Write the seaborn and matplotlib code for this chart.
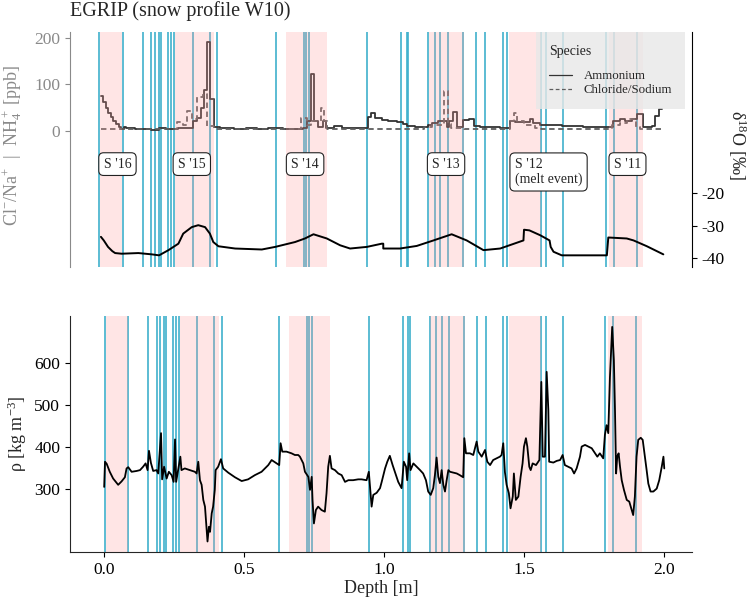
import matplotlib
matplotlib.use("Agg")
import numpy as np
import pandas as pd
import seaborn as sns
import matplotlib.pyplot as plt

# ---------------- data ----------------
# layer markers (blue vertical lines), depth in m
layer_depths = [0.004, 0.087, 0.158, 0.188, 0.202, 0.215, 0.221, 0.248, 0.256, 0.268,
                0.333, 0.393, 0.420, 0.626, 0.724, 0.733, 0.742, 0.946, 1.067, 1.087,
                1.093, 1.164, 1.186, 1.206, 1.233, 1.286, 1.331, 1.364, 1.426, 1.440,
                1.560, 1.579, 1.640, 1.789, 1.819, 1.899]

# summer seasons (pink bands) and their labels
season_start = [0.007, 0.271, 0.662, 1.165, 1.447, 1.800]
season_end = [0.085, 0.410, 0.807, 1.290, 1.560, 1.920]
season_labels = ["S '16", "S '15", "S '14", "S '13", "S '12\n(melt event)", "S '11"]
label_x = [0.000, 0.262, 0.661, 1.158, 1.449, 1.798]

# ammonium [ppb]
nh4_depth = [0.010, 0.019, 0.027, 0.036, 0.045, 0.054, 0.063, 0.072, 0.081, 0.090,
             0.100, 0.130, 0.160, 0.185, 0.215, 0.240, 0.280, 0.335, 0.349, 0.362,
             0.373, 0.385, 0.396, 0.408, 0.430, 0.480, 0.520, 0.560, 0.600, 0.650,
             0.700, 0.723, 0.735, 0.749, 0.761, 0.776, 0.792, 0.803, 0.830, 0.860,
             0.900, 0.950, 0.961, 0.976, 1.000, 1.023, 1.053, 1.076, 1.090, 1.117,
             1.164, 1.176, 1.199, 1.229, 1.238, 1.252, 1.264, 1.285, 1.307, 1.323,
             1.346, 1.417, 1.452, 1.470, 1.522, 1.534, 1.558, 1.634, 1.710, 1.769,
             1.816, 1.840, 1.857, 1.881, 1.899, 1.922, 1.951, 1.963, 1.975, 1.987]
nh4_ppb = [74, 61, 49, 39, 30, 21, 14, 7, 4, 8,
           5, 3, 4, 2, 5, 3, 5, 22, 28, 50,
           88, 192, 69, 7, 5, 4, 6, 3, 5, 4,
           3, 6, 21, 122, 20, 7, 20, 6, 10, 6,
           5, 29, 39, 27, 23, 21, 18, 14, 11, 7,
           12, 16, 20, 8, 20, 41, 8, 23, 25, 11,
           7, 5, 21, 18, 25, 17, 12, 10, 7, 9,
           21, 25, 22, 25, 36, 7, 11, 32, 47, 47]

# chloride / sodium ratio, shown on the ppb scale
clna_depth = [0.010, 0.277, 0.300, 0.312, 0.330, 0.348, 0.371, 0.383, 0.408, 0.715,
              0.735, 0.750, 0.786, 0.797, 0.808, 1.150, 1.175, 1.220, 1.232, 1.245,
              1.290, 1.452, 1.466, 1.478, 1.500, 1.540, 1.560, 1.810, 1.840, 1.865,
              1.895, 1.910, 1.987]
clna_ppb = [3, 18, 12, 43, 25, 72, 79, 11, 3, 27,
            12, 22, 49, 22, 3, 8, 12, 85, 15, 5,
            3, 22, 39, 20, 12, 6, 3, 12, 16, 25,
            8, 3, 3]

# d18O [permil]
d18o_depth = [0.010, 0.020, 0.035, 0.050, 0.060, 0.083, 0.142, 0.189, 0.215, 0.248,
              0.283, 0.300, 0.330, 0.353, 0.377, 0.394, 0.406, 0.424, 0.483, 0.577,
              0.624, 0.694, 0.729, 0.759, 0.806, 0.853, 0.888, 0.947, 1.000, 1.005,
              1.005, 1.064, 1.123, 1.182, 1.246, 1.299, 1.358, 1.417, 1.499, 1.501,
              1.520, 1.558, 1.591, 1.595, 1.605, 1.634, 1.793, 1.798, 1.863, 1.887,
              1.934, 1.992]
d18o_val = [-33.4, -34.5, -36.5, -37.8, -38.4, -38.6, -38.4, -38.8, -39.1, -37.5,
            -35.5, -32.4, -30.4, -29.8, -30.4, -32.4, -35.0, -36.3, -37.0, -37.3,
            -36.5, -35.0, -33.9, -32.6, -33.9, -36.0, -37.0, -36.5, -35.5, -35.5,
            -37.0, -37.0, -36.2, -34.5, -32.6, -34.5, -37.5, -37.0, -34.5, -31.2,
            -31.4, -32.9, -34.5, -36.5, -38.0, -39.1, -39.1, -33.6, -33.9, -34.5,
            -36.3, -38.8]

# snow density [kg m-3]
rho_depth = [0.001, 0.004, 0.010, 0.021, 0.033, 0.051, 0.063, 0.075, 0.081, 0.087,
             0.099, 0.117, 0.129, 0.140, 0.149, 0.156, 0.161, 0.168, 0.176, 0.188,
             0.194, 0.204, 0.208, 0.215, 0.224, 0.232, 0.242, 0.249, 0.254, 0.258,
             0.265, 0.273, 0.277, 0.289, 0.307, 0.325, 0.331, 0.337, 0.343, 0.349,
             0.355, 0.361, 0.367, 0.370, 0.375, 0.379, 0.385, 0.390, 0.396, 0.399,
             0.408, 0.418, 0.426, 0.444, 0.468, 0.492, 0.515, 0.539, 0.563, 0.587,
             0.599, 0.617, 0.626, 0.631, 0.637, 0.652, 0.670, 0.682, 0.694, 0.700,
             0.712, 0.718, 0.730, 0.736, 0.742, 0.745, 0.750, 0.757, 0.765, 0.777,
             0.789, 0.795, 0.801, 0.807, 0.813, 0.825, 0.837, 0.849, 0.861, 0.873,
             0.890, 0.908, 0.920, 0.938, 0.946, 0.952, 0.956, 0.962, 0.974, 0.986,
             0.992, 1.004, 1.012, 1.021, 1.031, 1.039, 1.051, 1.063, 1.071, 1.079,
             1.083, 1.090, 1.095, 1.105, 1.117, 1.129, 1.140, 1.150, 1.158, 1.167,
             1.176, 1.182, 1.188, 1.194, 1.200, 1.206, 1.212, 1.218, 1.224, 1.230,
             1.236, 1.248, 1.260, 1.271, 1.283, 1.287, 1.293, 1.307, 1.319, 1.331,
             1.337, 1.349, 1.361, 1.369, 1.379, 1.390, 1.402, 1.414, 1.420, 1.426,
             1.432, 1.438, 1.446, 1.452, 1.460, 1.464, 1.471, 1.480, 1.488, 1.495,
             1.500, 1.507, 1.512, 1.519, 1.524, 1.531, 1.543, 1.555, 1.562, 1.567,
             1.575, 1.581, 1.587, 1.590, 1.605, 1.617, 1.629, 1.638, 1.646, 1.658,
             1.670, 1.679, 1.688, 1.700, 1.706, 1.718, 1.730, 1.742, 1.754, 1.762,
             1.771, 1.783, 1.789, 1.795, 1.801, 1.807, 1.815, 1.821, 1.825, 1.829,
             1.833, 1.838, 1.843, 1.849, 1.857, 1.867, 1.876, 1.885, 1.890, 1.896,
             1.902, 1.908, 1.917, 1.924, 1.932, 1.938, 1.944, 1.952, 1.962, 1.974,
             1.983, 1.992, 1.998, 2.001]
rho_val = [305, 365, 360, 341, 325, 310, 318, 328, 349, 352,
           341, 343, 345, 353, 361, 345, 391, 362, 343, 345,
           337, 433, 323, 353, 325, 341, 333, 317, 418, 317,
           345, 377, 345, 349, 345, 341, 337, 365, 321, 310,
           274, 258, 202, 175, 210, 198, 242, 258, 298, 345,
           353, 371, 349, 339, 328, 319, 323, 333, 341, 357,
           369, 361, 357, 409, 389, 389, 385, 381, 381, 377,
           361, 341, 329, 298, 329, 274, 218, 250, 258, 250,
           246, 290, 353, 379, 349, 345, 337, 333, 317, 321,
           321, 323, 323, 321, 341, 290, 258, 286, 291, 302,
           317, 349, 365, 379, 357, 341, 317, 302, 365, 353,
           321, 385, 345, 361, 353, 345, 337, 321, 294, 286,
           302, 333, 375, 329, 314, 345, 310, 294, 321, 345,
           341, 339, 337, 333, 328, 421, 385, 385, 381, 413,
           389, 377, 393, 365, 357, 369, 373, 377, 381, 409,
           340, 310, 290, 254, 282, 337, 274, 282, 329, 361,
           401, 421, 401, 353, 345, 361, 357, 369, 555, 377,
           377, 579, 488, 365, 363, 367, 369, 381, 357, 353,
           349, 337, 349, 377, 401, 405, 401, 397, 385, 377,
           385, 373, 429, 452, 433, 567, 686, 607, 488, 337,
           377, 385, 353, 321, 298, 274, 270, 250, 238, 282,
           377, 417, 422, 417, 377, 345, 313, 294, 294, 301,
           321, 353, 377, 349]

# ---------------- style ----------------
sns.set_style("ticks")
plt.rcParams.update({
    "font.family": "serif",
    "font.serif": ["Liberation Serif", "DejaVu Serif"],
    "mathtext.fontset": "custom",
    "mathtext.rm": "Liberation Serif",
    "mathtext.it": "Liberation Serif:italic",
    "axes.unicode_minus": False,
    "font.size": 12,
    "xtick.labelsize": 12.5,
    "ytick.labelsize": 12.5,
})

GREY = "#8a8a8a"
BLUE = "#3fb0cc"
PINK = "#ff9a9a"

fig = plt.figure(figsize=(7.54, 6.03), dpi=100)
ax_top = fig.add_axes([70 / 754, 1 - 267 / 603, 622 / 754, 235 / 603])
ax_bot = fig.add_axes([70 / 754, 1 - 552 / 603, 622 / 754, 236 / 603])


def shade(ax):
    for x in layer_depths:
        ax.axvline(x, color=BLUE, lw=1.2, zorder=1)
    for s, e in zip(season_start, season_end):
        ax.axvspan(s, e, color=PINK, alpha=0.25, lw=0, zorder=3)


# ---------------- top panel: chemistry + d18O ----------------
chem = pd.concat([
    pd.DataFrame({"depth": nh4_depth, "ppb": nh4_ppb, "Species": "Ammonium"}),
    pd.DataFrame({"depth": clna_depth, "ppb": clna_ppb, "Species": "Chloride/Sodium"}),
], ignore_index=True)

shade(ax_top)
sns.lineplot(data=chem, x="depth", y="ppb", hue="Species", style="Species",
             palette={"Ammonium": "#333333", "Chloride/Sodium": "#5e5e5e"},
             dashes={"Ammonium": "", "Chloride/Sodium": (3, 2)},
             drawstyle="steps-post", estimator=None, sort=False, lw=1.3,
             ax=ax_top, zorder=2)

ax_top.set_xlim(-0.099, 2.093)
ax_top.set_ylim(-294, 213)
ax_top.set_yticks([0, 100, 200])
ax_top.set_xticks([])
ax_top.set_xlabel("")
ax_top.set_ylabel(r"Cl$^{-}$/Na$^{+}$  |  NH$_4^+$ [ppb]", color=GREY, fontsize=13)
ax_top.yaxis.set_label_coords(-0.074, 0.52)
ax_top.tick_params(axis="y", colors=GREY, length=3.5)
for side in ["top", "right", "bottom"]:
    ax_top.spines[side].set_visible(False)
ax_top.spines["left"].set_color(GREY)

handles, labels = ax_top.get_legend_handles_labels()
leg = ax_top.legend(handles, labels, title="Species", loc="upper right",
                    bbox_to_anchor=(0.989, 1.0), borderaxespad=0, frameon=True,
                    fancybox=False, facecolor="#e8e8e8", edgecolor="none",
                    framealpha=0.8, fontsize=9.3, title_fontsize=10,
                    alignment="left", handlelength=1.8, handletextpad=0.9,
                    borderpad=1.0, labelspacing=0.12)
leg._legend_box.sep = 9
for h in leg.get_lines():
    h.set_linewidth(0.9)

for txt, x in zip(season_labels, label_x):
    ax_top.annotate(txt, xy=(x, -58), xytext=(4, 0), textcoords="offset points",
                    ha="left", va="top", fontsize=10, zorder=6,
                    bbox=dict(boxstyle="round,pad=0.35,rounding_size=0.35",
                              fc="white", ec="#222222", lw=0.8))

ax_iso = ax_top.twinx()
sns.lineplot(x=d18o_depth, y=d18o_val, color="black", lw=1.4, sort=False,
             estimator=None, ax=ax_iso)
ax_iso.set_xlim(-0.099, 2.093)
ax_iso.set_ylim(-42.7, 29.8)
ax_iso.set_yticks([-40, -30, -20])
ax_iso.set_ylabel(r"δ$^{18}$O [‰]", rotation=270, fontsize=13)
ax_iso.yaxis.set_label_coords(1.09, 0.52)
ax_iso.tick_params(axis="y", length=3.5, colors="black")
for side in ["top", "left", "bottom"]:
    ax_iso.spines[side].set_visible(False)
ax_iso.spines["right"].set_color("black")

# ---------------- bottom panel: density ----------------
shade(ax_bot)
sns.lineplot(x=rho_depth, y=rho_val, color="black", lw=1.3, sort=False,
             estimator=None, ax=ax_bot, zorder=4)
ax_bot.set_xlim(-0.121, 2.1)
ax_bot.set_ylim(150, 712)
ax_bot.set_yticks([300, 400, 500, 600])
ax_bot.set_xticks([0.0, 0.5, 1.0, 1.5, 2.0])
ax_bot.set_xticklabels(["0.0", "0.5", "1.0", "1.5", "2.0"])
ax_bot.set_xlabel("Depth [m]", fontsize=13)
ax_bot.set_ylabel(r"ρ [kg m$^{-3}$]", fontsize=13)
ax_bot.yaxis.set_label_coords(-0.066, 0.5)
ax_bot.xaxis.set_label_coords(0.5, -0.118)
ax_bot.tick_params(length=3.5, colors="black")
for side in ["top", "right"]:
    ax_bot.spines[side].set_visible(False)

fig.text(70 / 754, 1 - 16 / 603, "EGRIP (snow profile W10)", fontsize=14.5,
         va="baseline", ha="left")

fig.savefig("out.png", dpi=100)
